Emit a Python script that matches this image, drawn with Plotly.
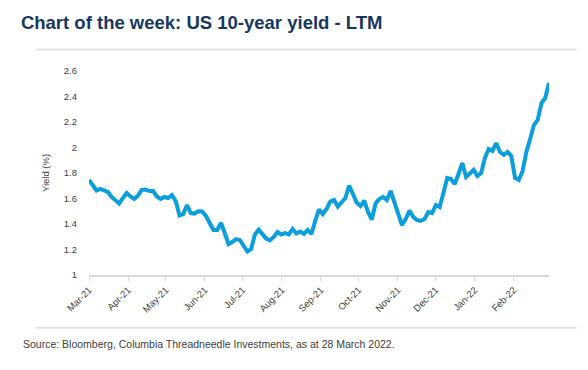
import plotly.graph_objects as go
import pandas as pd

# US 10-year Treasury yield (%), last twelve months
yield_values = [
    1.745, 1.698, 1.663, 1.675, 1.663, 1.651, 1.612, 1.588, 1.561, 1.604,
    1.643, 1.616, 1.596, 1.624, 1.667, 1.671, 1.659, 1.659, 1.616, 1.596,
    1.612, 1.604, 1.627, 1.580, 1.467, 1.478, 1.549, 1.486, 1.482, 1.500,
    1.498, 1.463, 1.412, 1.353, 1.353, 1.408, 1.329, 1.243, 1.259, 1.282,
    1.275, 1.227, 1.184, 1.204, 1.318, 1.355, 1.322, 1.286, 1.271, 1.298,
    1.337, 1.318, 1.329, 1.318, 1.361, 1.325, 1.341, 1.322, 1.353, 1.322,
    1.424, 1.514, 1.478, 1.518, 1.576, 1.588, 1.537, 1.573, 1.604, 1.702,
    1.643, 1.569, 1.541, 1.584, 1.494, 1.435, 1.561, 1.596, 1.612, 1.588,
    1.659, 1.573, 1.482, 1.392, 1.439, 1.506, 1.455, 1.431, 1.424, 1.439,
    1.494, 1.486, 1.549, 1.533, 1.643, 1.761, 1.753, 1.714, 1.792, 1.878,
    1.769, 1.800, 1.824, 1.776, 1.800, 1.918, 1.988, 1.973, 2.035, 1.965,
    1.943, 1.965, 1.933, 1.761, 1.745, 1.816, 1.965, 2.067, 2.176, 2.216,
    2.349, 2.388, 2.506,
]
start_date = "2021-03-28"
end_date = "2022-03-28"
dates = pd.date_range(start_date, end_date, periods=len(yield_values))

tick_labels = ["Mar-21", "Apr-21", "May-21", "Jun-21", "Jul-21", "Aug-21",
               "Sep-21", "Oct-21", "Nov-21", "Dec-21", "Jan-22", "Feb-22"]
tick_dates = [pd.Timestamp(start_date) + pd.DateOffset(months=i) for i in range(len(tick_labels))]
y_ticks = [1, 1.2, 1.4, 1.6, 1.8, 2, 2.2, 2.4, 2.6]
y_tick_labels = ["1", "1.2", "1.4", "1.6", "1.8", "2", "2.2", "2.4", "2.6"]

FONT = "Liberation Sans, Arial, sans-serif"

fig = go.Figure()
fig.add_trace(go.Scatter(
    x=dates, y=yield_values, mode="lines",
    line=dict(color="#0a9fdc", width=4),
    hoverinfo="x+y", showlegend=False,
))

fig.update_layout(
    width=588, height=370,
    margin=dict(l=81, r=47, t=63, b=103),
    paper_bgcolor="white", plot_bgcolor="white",
    font=dict(family=FONT, size=9, color="#404040"),
    title=dict(
        text="<b>Chart of the week: US 10-year yield - LTM</b>",
        x=0.022, xanchor="left", y=0.962, yanchor="middle",
        font=dict(family=FONT, size=18.5, color="#17375e"),
    ),
    xaxis=dict(
        range=[pd.Timestamp(start_date), pd.Timestamp(end_date)],
        tickmode="array", tickvals=tick_dates, ticktext=tick_labels,
        tickangle=-45, showgrid=False, zeroline=False,
        showline=True, linecolor="#d9d9d9", linewidth=1.5,
        ticks="outside", ticklen=4, tickcolor="#d9d9d9", tickwidth=1,
        tickfont=dict(size=9.5, color="#404040"),
    ),
    yaxis=dict(
        range=[1, 2.6], tickmode="array", tickvals=y_ticks, ticktext=y_tick_labels,
        showgrid=False, zeroline=False, showline=False, ticks="",
        ticklabelstandoff=11,
        tickfont=dict(size=9.5, color="#404040"),
        title=dict(text="Yield (%)", font=dict(size=9.5, color="#404040"), standoff=12),
    ),
)

# light grey frame lines above and below the chart
fig.add_shape(type="line", xref="paper", yref="paper",
              x0=-0.115, x1=1.06, y0=1.105, y1=1.105,
              line=dict(color="#e3e3e3", width=2))
fig.add_shape(type="line", xref="paper", yref="paper",
              x0=-0.115, x1=1.06, y0=-0.258, y1=-0.258,
              line=dict(color="#e3e3e3", width=2))

fig.add_annotation(
    text="Source: Bloomberg, Columbia Threadneedle Investments, as at 28 March 2022.",
    xref="paper", yref="paper", x=-0.148, y=-0.34, xanchor="left", yanchor="middle",
    showarrow=False, font=dict(family=FONT, size=10.5, color="#404040"),
)

fig.write_html("out.html")
